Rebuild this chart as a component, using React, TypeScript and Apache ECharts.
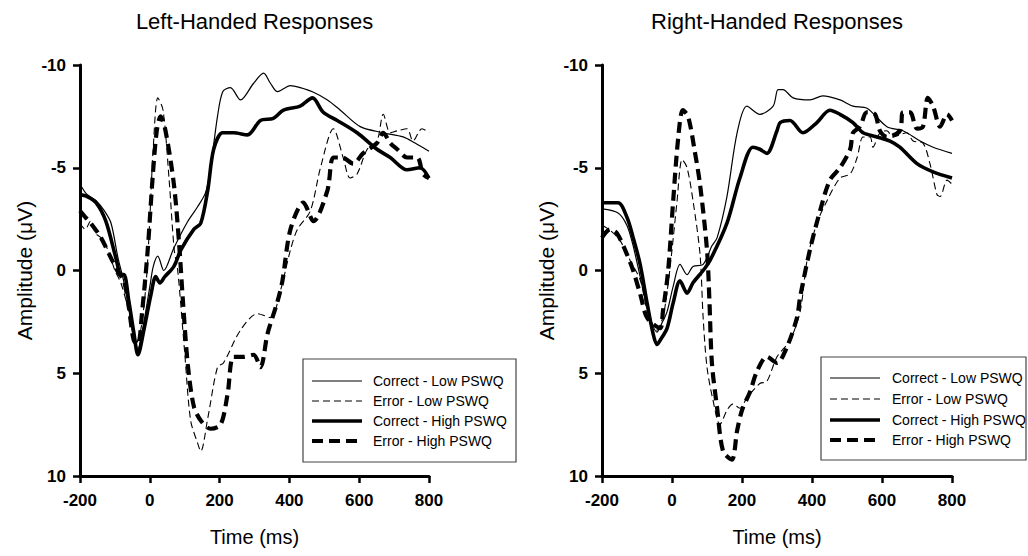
import React, { useEffect, useRef } from "react";
import * as echarts from "echarts";

const FONT = "'Liberation Sans', Arial, Helvetica, sans-serif";

const timeTicks = { min: -200, max: 800, interval: 200 };
const ampTicks = { min: -10, max: 10, interval: 5 };

const seriesNames = ["Correct - Low PSWQ", "Error - Low PSWQ", "Correct - High PSWQ", "Error - High PSWQ"];
const panelTitles = ["Left-Handed Responses", "Right-Handed Responses"];

// [time (ms), amplitude (µV)]
const leftCorrectLow: [number, number][] = [
  [-200, -4.2], [-180, -3.7], [-154, -3.4], [-130, -2.9], [-111, -2.3], [-91, -0.6], [-75, 0.5], [-55, 2.3],
  [-34, 3.8], [-20, 2.8], [0, 0.8], [10, -0.2], [23, -0.7], [40, 0.0], [69, -1.1], [109, -2.4], [137, -3.1],
  [160, -3.8], [174, -5.0], [194, -7.5], [209, -8.7], [231, -8.9], [260, -8.3], [297, -9.1], [326, -9.6],
  [346, -9.1], [366, -8.7], [403, -9.0], [431, -8.9], [466, -8.7], [509, -8.3], [546, -7.8], [603, -7.0],
  [669, -6.7], [726, -6.5], [760, -6.2], [800, -5.8],
];
const leftErrorLow: [number, number][] = [
  [-200, -2.3], [-185, -2.0], [-170, -2.4], [-155, -1.8], [-140, -1.6], [-120, -1.0], [-100, 0.0], [-83, 0.6],
  [-60, 2.0], [-40, 3.6], [-25, 2.8], [-10, 0.5], [0, -2.5], [10, -6.0], [23, -8.4], [38, -7.8], [55, -4.5],
  [70, -1.0], [80, 0.0], [100, 4.0], [117, 7.3], [137, 8.4], [146, 8.8], [166, 7.2], [194, 4.7], [211, 4.5],
  [260, 2.9], [309, 2.1], [346, 2.3], [374, 1.0], [403, -1.0], [423, -2.0], [460, -2.9], [489, -5.0],
  [526, -6.9], [554, -5.5], [574, -4.5], [594, -4.7], [623, -5.9], [651, -6.3], [669, -7.6], [689, -6.7],
  [709, -6.8], [737, -6.9], [754, -6.3], [780, -6.9], [800, -6.7],
];
const leftCorrectHigh: [number, number][] = [
  [-200, -3.7], [-180, -3.6], [-154, -3.3], [-126, -2.4], [-97, -0.6], [-83, 0.2], [-74, 0.2], [-60, 1.5],
  [-46, 3.0], [-34, 4.1], [-17, 2.9], [3, 1.2], [17, 0.3], [29, 0.6], [43, 0.3], [69, -0.2], [89, -1.0],
  [126, -2.0], [146, -2.3], [166, -3.9], [183, -5.9], [209, -6.7], [240, -6.7], [280, -6.6], [317, -7.3],
  [354, -7.4], [383, -7.8], [431, -8.0], [466, -8.4], [497, -7.7], [537, -7.3], [594, -6.7], [651, -5.9],
  [689, -5.5], [737, -4.9], [774, -5.0], [800, -4.5],
];
const leftErrorHigh: [number, number][] = [
  [-200, -2.9], [-185, -2.6], [-169, -2.3], [-140, -1.6], [-111, -0.6], [-90, 0.1], [-74, 0.5], [-60, 1.8],
  [-46, 3.4], [-34, 3.6], [-22, 2.0], [-6, -1.0], [8, -4.5], [20, -6.8], [31, -7.5], [45, -6.8], [69, -4.2],
  [84, -1.3], [95, 1.5], [109, 4.6], [126, 6.6], [146, 7.3], [174, 7.7], [203, 7.5], [223, 6.0], [240, 4.2],
  [269, 4.2], [297, 4.1], [317, 4.7], [337, 3.1], [366, 1.5], [380, 0.5], [403, -2.0], [440, -3.3],
  [469, -2.4], [509, -3.9], [526, -5.5], [551, -5.5], [583, -5.2], [611, -5.7], [651, -6.2], [669, -6.7],
  [689, -6.2], [709, -5.9], [737, -5.5], [766, -5.5], [783, -4.7], [800, -4.5],
];

const rightCorrectLow: [number, number][] = [
  [-200, -3.0], [-154, -2.8], [-129, -2.2], [-111, -1.2], [-91, 0.3], [-71, 1.8], [-43, 3.0], [-30, 2.6],
  [-14, 2.0], [3, 0.8], [23, -0.3], [43, 0.2], [60, -0.2], [89, -0.3], [114, -1.2], [129, -1.6], [157, -3.6],
  [186, -6.7], [214, -8.0], [251, -7.6], [289, -8.0], [303, -8.8], [317, -8.8], [346, -8.4], [394, -8.3],
  [431, -8.5], [480, -8.3], [517, -8.0], [557, -7.9], [614, -7.0], [660, -6.8], [709, -6.3], [746, -6.0],
  [800, -5.7],
];
const rightErrorLow: [number, number][] = [
  [-200, -2.2], [-180, -2.0], [-150, -1.5], [-120, -0.5], [-90, 0.5], [-70, 2.0], [-43, 2.9], [-25, 2.2],
  [-10, 0.5], [0, -1.0], [14, -3.3], [29, -5.4], [43, -5.0], [60, -3.4], [80, -0.8], [89, 2.3], [100, 4.7],
  [117, 6.3], [137, 7.5], [157, 6.8], [174, 6.5], [194, 6.7], [214, 6.2], [251, 5.5], [271, 5.4], [300, 4.2],
  [337, 3.4], [366, 2.0], [386, -0.5], [414, -2.3], [443, -3.4], [480, -4.5], [509, -4.7], [529, -5.5],
  [546, -6.5], [566, -6.5], [574, -6.0], [594, -6.7], [614, -6.8], [631, -6.5], [671, -6.7], [689, -6.3],
  [717, -6.2], [737, -5.2], [757, -3.7], [766, -3.6], [786, -4.4], [800, -4.2],
];
const rightCorrectHigh: [number, number][] = [
  [-200, -3.3], [-154, -3.3], [-129, -2.6], [-111, -1.6], [-91, -0.3], [-71, 1.6], [-55, 3.0], [-43, 3.6],
  [-34, 3.4], [-14, 2.8], [3, 1.6], [23, 0.5], [43, 1.1], [60, 0.6], [89, 0.0], [109, -0.5], [157, -2.3],
  [194, -4.5], [231, -6.0], [251, -5.9], [271, -5.7], [300, -6.8], [309, -7.2], [337, -7.3], [374, -6.7],
  [414, -7.2], [451, -7.8], [480, -7.6], [517, -7.2], [546, -6.7], [586, -6.5], [623, -6.3], [651, -6.0],
  [700, -5.2], [746, -4.8], [800, -4.5],
];
const rightErrorHigh: [number, number][] = [
  [-200, -1.6], [-177, -2.0], [-157, -1.8], [-129, -0.8], [-111, 0.0], [-90, 1.2], [-71, 2.3], [-34, 2.8],
  [-26, 2.0], [-11, 0.0], [3, -3.3], [18, -6.5], [31, -7.8], [46, -7.5], [65, -5.8], [80, -4.2], [100, -1.0],
  [107, 1.5], [114, 4.5], [129, 6.7], [146, 8.8], [171, 9.2], [186, 7.8], [200, 6.8], [223, 5.9], [243, 4.9],
  [271, 4.2], [300, 4.5], [329, 3.7], [357, 2.3], [366, 1.3], [394, -1.0], [423, -2.9], [451, -4.4],
  [480, -5.0], [509, -5.9], [517, -6.7], [537, -7.0], [557, -7.7], [580, -7.6], [594, -6.8], [614, -6.5],
  [651, -6.8], [660, -7.7], [680, -7.7], [700, -6.9], [717, -7.0], [731, -8.4], [746, -8.0], [766, -7.0],
  [786, -7.6], [800, -7.3],
];

const lineStyles = [
  { width: 1.2, type: "solid" as any },
  { width: 1.1, type: [7, 4] as any },
  { width: 3.6, type: "solid" as any },
  { width: 4.2, type: [11, 6] as any },
];

function buildOption() {
  const grids = [
    { left: 80, top: 65, width: 349, height: 411 },
    { left: 602, top: 65, width: 350, height: 411 },
  ];
  const axisLine = { show: true, onZero: false, lineStyle: { color: "#000", width: 3 } };
  const axisTick = { show: true, inside: false, length: 7, lineStyle: { color: "#000", width: 2.5 } };
  const tickLabel = { color: "#000", fontWeight: "bold" as any, fontSize: 17, fontFamily: FONT };
  const xAxis = grids.map((_, i) => ({
    gridIndex: i,
    type: "value",
    min: timeTicks.min,
    max: timeTicks.max,
    interval: timeTicks.interval,
    position: "bottom",
    axisLine,
    axisTick,
    axisLabel: { ...tickLabel, margin: 16 },
    splitLine: { show: false },
    name: "Time (ms)",
    nameLocation: "middle",
    nameGap: 51,
    nameTextStyle: { color: "#000", fontSize: 20, fontFamily: FONT },
  }));
  const yAxis = grids.map((_, i) => ({
    gridIndex: i,
    type: "value",
    inverse: true,
    min: ampTicks.min,
    max: ampTicks.max,
    interval: ampTicks.interval,
    axisLine,
    axisTick,
    axisLabel: { ...tickLabel, margin: 14 },
    splitLine: { show: false },
    name: "Amplitude (\u03bcV)",
    nameLocation: "middle",
    nameGap: 45,
    nameRotate: 90,
    nameTextStyle: { color: "#000", fontSize: 21, fontFamily: FONT },
  }));
  const panels = [
    [leftCorrectLow, leftErrorLow, leftCorrectHigh, leftErrorHigh],
    [rightCorrectLow, rightErrorLow, rightCorrectHigh, rightErrorHigh],
  ];
  const series: any[] = [];
  panels.forEach((sets, p) => {
    sets.forEach((data, k) => {
      series.push({
        name: seriesNames[k],
        type: "line",
        xAxisIndex: p,
        yAxisIndex: p,
        data,
        smooth: 0.3,
        showSymbol: false,
        symbol: "none",
        z: 2 + k,
        lineStyle: { color: "#000", width: lineStyles[k].width, type: lineStyles[k].type },
      });
    });
  });

  const graphic: any[] = [];
  panelTitles.forEach((t, i) => {
    graphic.push({
      type: "text",
      x: grids[i].left + grids[i].width / 2,
      y: 21,
      style: {
        text: t,
        fill: "#000",
        fontSize: 22,
        fontFamily: FONT,
        align: "center",
        verticalAlign: "middle",
        textAlign: "center",
        textVerticalAlign: "middle",
      },
    });
  });
  const legends = [
    { x: 303, y: 359, w: 213, h: 103, lx: 312, tx: 373, rows: [381, 401, 421, 441] },
    { x: 821, y: 357, w: 205, h: 103, lx: 830, tx: 892, rows: [378, 399, 420, 440] },
  ];
  legends.forEach((lg) => {
    graphic.push({
      type: "rect",
      shape: { x: lg.x, y: lg.y, width: lg.w, height: lg.h },
      style: { fill: "#fff", stroke: "#444", lineWidth: 1.2 },
      z: 20,
    });
    seriesNames.forEach((n, k) => {
      const ls = lineStyles[k];
      graphic.push({
        type: "line",
        shape: { x1: lg.lx, y1: lg.rows[k], x2: lg.lx + 50, y2: lg.rows[k] },
        style: {
          stroke: "#000",
          lineWidth: ls.width,
          lineDash: Array.isArray(ls.type) ? ls.type : null,
        },
        z: 21,
      });
      graphic.push({
        type: "text",
        x: lg.tx,
        y: lg.rows[k],
        style: {
          text: n,
          fill: "#000",
          fontSize: 14,
          fontFamily: FONT,
          align: "left",
          verticalAlign: "middle",
          textAlign: "left",
          textVerticalAlign: "middle",
        },
        z: 21,
      });
    });
  });

  return {
    animation: false,
    backgroundColor: "#fff",
    grid: grids,
    xAxis,
    yAxis,
    series,
    graphic,
  };
}

export default function App() {
  const ref = useRef<HTMLDivElement>(null);
  useEffect(() => {
    if (!ref.current) return;
    const chart = echarts.init(ref.current, null, { renderer: "svg" });
    chart.setOption(buildOption() as any);
    return () => chart.dispose();
  }, []);
  return (
    <div
      ref={ref}
      style={{ position: "fixed", left: 0, top: 0, width: 1028, height: 556, background: "#fff" }}
    />
  );
}
